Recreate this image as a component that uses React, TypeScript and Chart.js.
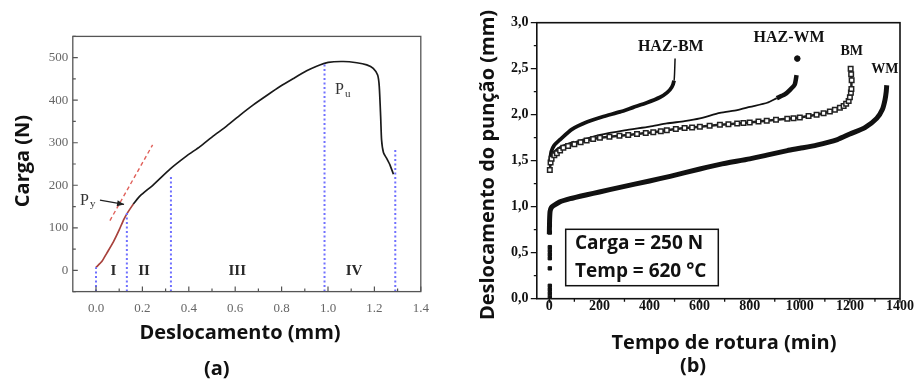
import React, { useEffect, useRef } from "react";
import { Chart, registerables } from "chart.js";
Chart.register(...registerables);

// ================= Panel (a) data =================
const aXTicks = [0, 0.2, 0.4, 0.6, 0.8, 1.0, 1.2, 1.4];
const aXMinor = [0.1, 0.3, 0.5, 0.7, 0.9, 1.1, 1.3];
const aYTicks = [0, 100, 200, 300, 400, 500];
const aYMinor = [-50, 50, 150, 250, 350, 450, 550];

const elasticX = [0, 0.024, 0.046, 0.075, 0.1, 0.12, 0.139, 0.161];
const elasticY = [7, 20, 40, 67, 95, 120, 138, 156];

const loadX = [0.161, 0.19, 0.247, 0.319, 0.391, 0.448, 0.506, 0.563, 0.621, 0.678, 0.736, 0.793, 0.851, 0.908, 0.951, 1.001, 1.066, 1.124, 1.167, 1.195, 1.214, 1.221, 1.227, 1.231, 1.239, 1.253, 1.267, 1.282];
const loadY = [156, 175, 201, 238, 269, 291, 316, 339, 365, 389, 411, 432, 451, 469, 480, 489, 491, 488, 483, 475, 459, 432, 361, 306, 277, 263, 248, 226];

const tangentX = [0.06, 0.244];
const tangentY = [117, 295];

const stageLineX = [0, 0.133, 0.323, 0.985, 1.29];
const stageLineTop = [7, 140, 224, 490, 287];

const stageNames = ["I", "II", "III", "IV"];
const stageNameX = [0.075, 0.207, 0.609, 1.112];

// ================= Panel (b) data =================
const bXTicks = [0, 200, 400, 600, 800, 1000, 1200, 1400];
const bXMinor = [100, 300, 500, 700, 900, 1100, 1300];
const bYTicks = [0, 0.5, 1.0, 1.5, 2.0, 2.5, 3.0];
const bYMinor = [0.25, 0.75, 1.25, 1.75, 2.25, 2.75];

const hazBmX = [3, 8, 20, 43, 90, 150, 216, 282, 335, 389, 442, 470, 489, 498, 500, 502];
const hazBmY = [1.5, 1.6, 1.67, 1.73, 1.84, 1.92, 1.98, 2.03, 2.08, 2.13, 2.19, 2.24, 2.3, 2.37, 2.45, 2.61];

const hazWmX = [3, 8, 16, 50, 100, 202, 300, 400, 469, 540, 601, 681, 750, 801, 870, 908, 940, 961, 980, 987];
const hazWmY = [1.45, 1.53, 1.58, 1.65, 1.7, 1.78, 1.83, 1.87, 1.905, 1.93, 1.96, 2.02, 2.05, 2.085, 2.13, 2.18, 2.22, 2.27, 2.33, 2.43];
const hazWmTipX = [990];
const hazWmTipY = [2.61];

const bmX = [2, 5, 9, 20, 30, 43, 56, 75, 100, 125, 149, 175, 202, 240, 280, 315, 350, 385, 415, 445, 469, 505, 540, 570, 601, 640, 681, 715, 750, 775, 800, 835, 868, 905, 950, 975, 1000, 1035, 1067, 1095, 1120, 1140, 1160, 1175, 1185, 1195, 1200, 1204, 1206, 1207, 1205, 1203];
const bmY = [1.4, 1.48, 1.52, 1.56, 1.58, 1.61, 1.64, 1.66, 1.68, 1.7, 1.72, 1.735, 1.75, 1.76, 1.77, 1.78, 1.79, 1.8, 1.81, 1.82, 1.83, 1.845, 1.855, 1.862, 1.87, 1.88, 1.89, 1.897, 1.905, 1.91, 1.915, 1.925, 1.935, 1.945, 1.955, 1.962, 1.97, 1.985, 2.0, 2.015, 2.035, 2.055, 2.075, 2.095, 2.12, 2.15, 2.19, 2.24, 2.28, 2.375, 2.44, 2.5];

const wmX = [0, 1, 3, 8, 16, 40, 83, 150, 200, 282, 400, 482, 601, 681, 800, 868, 950, 1000, 1067, 1150, 1200, 1260, 1307, 1330, 1340, 1345, 1347];
const wmY = [0.7, 0.85, 0.95, 0.99, 1.01, 1.05, 1.087, 1.13, 1.16, 1.21, 1.28, 1.33, 1.41, 1.46, 1.52, 1.56, 1.61, 1.635, 1.67, 1.73, 1.79, 1.86, 1.96, 2.06, 2.16, 2.25, 2.32];

const startColX = [2, 2, 2, 2, 2, 2, 2, 2, 2, 2, 2];
const startColY = [0.02, 0.06, 0.1, 0.14, 0.33, 0.44, 0.48, 0.52, 0.56, 0.72, 0.8];

const seriesNames = ["HAZ-BM", "HAZ-WM", "BM", "WM"];
const seriesLabelX = [485, 957, 1207, 1340];
const seriesLabelY = [2.74, 2.83, 2.685, 2.497];

const zip = (xs: number[], ys: number[]) => xs.map((x, i) => ({ x, y: ys[i] }));

const SANS = "'Open Sans', 'DejaVu Sans', sans-serif";
const SERIF = "'Liberation Serif', 'DejaVu Serif', serif";

function text(ctx: CanvasRenderingContext2D, s: string, x: number, y: number, font: string, color: string, align: CanvasTextAlign = "center", rot = 0) {
  ctx.save();
  ctx.font = font;
  ctx.fillStyle = color;
  ctx.textAlign = align;
  ctx.textBaseline = "middle";
  ctx.translate(x, y);
  if (rot) ctx.rotate(rot);
  ctx.fillText(s, 0, 0);
  ctx.restore();
}

function drawTicks(ctx: CanvasRenderingContext2D, chart: any, xs: number[], len: number, inward: boolean, axis: "x" | "y") {
  const ca = chart.chartArea;
  const sc = chart.scales[axis];
  ctx.beginPath();
  xs.forEach((v) => {
    const p = sc.getPixelForValue(v);
    if (axis === "x") {
      ctx.moveTo(p, ca.bottom);
      ctx.lineTo(p, inward ? ca.bottom - len : ca.bottom + len);
    } else {
      ctx.moveTo(ca.left, p);
      ctx.lineTo(inward ? ca.left + len : ca.left - len, p);
    }
  });
  ctx.stroke();
}

const panelAPlugin = {
  id: "panelA",
  afterDraw(chart: any) {
    const { ctx, chartArea: ca, scales } = chart;
    const x = scales.x, y = scales.y;
    ctx.save();
    ctx.strokeStyle = "#555";
    ctx.lineWidth = 1.3;
    ctx.strokeRect(ca.left, ca.top, ca.right - ca.left, ca.bottom - ca.top);
    ctx.lineWidth = 1.2;
    drawTicks(ctx, chart, aXTicks, 5, true, "x");
    drawTicks(ctx, chart, aXMinor, 3, true, "x");
    drawTicks(ctx, chart, aYTicks, 5, true, "y");
    drawTicks(ctx, chart, aYMinor, 3, true, "y");

    stageNames.forEach((s, i) => {
      text(ctx, s, x.getPixelForValue(stageNameX[i]), y.getPixelForValue(-2), `bold 15px ${SERIF}`, "#2a2a2a");
    });

    const pyX = x.getPixelForValue(-0.069), pyY = y.getPixelForValue(164);
    text(ctx, "P", pyX, pyY, `16px ${SERIF}`, "#333", "left");
    text(ctx, "y", pyX + 10, pyY + 4, `11px ${SERIF}`, "#333", "left");
    const ax0 = x.getPixelForValue(0.017), ay0 = y.getPixelForValue(165);
    const ax1 = x.getPixelForValue(0.121), ay1 = y.getPixelForValue(155);
    ctx.strokeStyle = "#222";
    ctx.lineWidth = 1.2;
    ctx.beginPath();
    ctx.moveTo(ax0, ay0);
    ctx.lineTo(ax1, ay1);
    ctx.stroke();
    const ang = Math.atan2(ay1 - ay0, ax1 - ax0);
    ctx.fillStyle = "#222";
    ctx.beginPath();
    ctx.moveTo(ax1, ay1);
    ctx.lineTo(ax1 - 7 * Math.cos(ang) + 3 * Math.sin(ang), ay1 - 7 * Math.sin(ang) - 3 * Math.cos(ang));
    ctx.lineTo(ax1 - 7 * Math.cos(ang) - 3 * Math.sin(ang), ay1 - 7 * Math.sin(ang) + 3 * Math.cos(ang));
    ctx.closePath();
    ctx.fill();

    const puX = x.getPixelForValue(1.03), puY = y.getPixelForValue(424);
    text(ctx, "P", puX, puY, `16px ${SERIF}`, "#333", "left");
    text(ctx, "u", puX + 10, puY + 4, `11px ${SERIF}`, "#333", "left");

    text(ctx, "Carga (N)", 23.3, 161, `bold 20px ${SANS}`, "#111", "center", -Math.PI / 2);
    text(ctx, "Deslocamento (mm)", 240, 333, `bold 20px ${SANS}`, "#111");
    text(ctx, "(a)", 216.7, 369, `bold 20px ${SANS}`, "#111");
    ctx.restore();
  },
};

const panelBPlugin = {
  id: "panelB",
  afterDraw(chart: any) {
    const { ctx, chartArea: ca, scales } = chart;
    const x = scales.x, y = scales.y;
    ctx.save();
    ctx.strokeStyle = "#111";
    ctx.lineWidth = 1.6;
    ctx.strokeRect(ca.left, ca.top, ca.right - ca.left, ca.bottom - ca.top);
    ctx.lineWidth = 1.3;
    drawTicks(ctx, chart, bXTicks, 4, false, "x");
    drawTicks(ctx, chart, bXMinor, 3, false, "x");
    drawTicks(ctx, chart, bYTicks, 6, false, "y");
    drawTicks(ctx, chart, bYMinor, 3, false, "y");

    seriesNames.forEach((s, i) => {
      const size = i < 2 ? 16 : 14;
      text(ctx, s, x.getPixelForValue(seriesLabelX[i]), y.getPixelForValue(seriesLabelY[i]), `bold ${size}px ${SERIF}`, "#111");
    });

    ctx.fillStyle = "#fff";
    ctx.fillRect(107.7, 229.3, 152.6, 56.4);
    ctx.strokeStyle = "#111";
    ctx.lineWidth = 1.5;
    ctx.strokeRect(107.7, 229.3, 152.6, 56.4);
    text(ctx, "Carga = 250 N", 117, 243.5, `bold 19px ${SANS}`, "#111", "left");
    text(ctx, "Temp = 620 °C", 117, 271.5, `bold 19px ${SANS}`, "#111", "left");

    text(ctx, "Deslocamento do punção (mm)", 30, 165, `bold 20px ${SANS}`, "#111", "center", -Math.PI / 2);
    text(ctx, "Tempo de rotura (min)", 266, 343, `bold 20px ${SANS}`, "#111");
    text(ctx, "(b)", 235, 366, `bold 20px ${SANS}`, "#111");
    ctx.restore();
  },
};

function PanelA() {
  const ref = useRef<HTMLCanvasElement>(null);
  useEffect(() => {
    const chart = new Chart(ref.current as HTMLCanvasElement, {
      type: "scatter",
      data: {
        datasets: [
          ...stageLineX.map((sx, i) => ({
            data: [{ x: sx, y: -50 }, { x: sx, y: stageLineTop[i] }],
            showLine: true,
            borderColor: "#7070ff",
            borderWidth: 2,
            borderDash: [2, 2.5],
            pointRadius: 0,
          })),
          {
            data: zip(tangentX, tangentY),
            showLine: true,
            borderColor: "#e0605a",
            borderWidth: 1.4,
            borderDash: [4, 3],
            pointRadius: 0,
          },
          {
            data: zip(loadX, loadY),
            showLine: true,
            borderColor: "#1a1a1a",
            borderWidth: 1.7,
            pointRadius: 0,
            tension: 0.2,
          },
          {
            data: zip(elasticX, elasticY),
            showLine: true,
            borderColor: "#a8423c",
            borderWidth: 1.7,
            pointRadius: 0,
            tension: 0.2,
          },
        ],
      },
      options: {
        animation: false,
        responsive: false,
        layout: { padding: { left: 0, top: 36.4, right: 37.2, bottom: 0 } },
        plugins: { legend: { display: false }, tooltip: { enabled: false } },
        scales: {
          x: {
            type: "linear",
            min: -0.1,
            max: 1.4,
            grid: { display: false, drawTicks: false },
            border: { display: false },
            afterBuildTicks: (s: any) => { s.ticks = aXTicks.map((v) => ({ value: v })); },
            afterFit: (s: any) => { s.height = 91.4; },
            ticks: {
              autoSkip: false,
              maxRotation: 0,
              padding: 9,
              color: "#666",
              font: { family: SERIF, size: 13 },
              callback: (v: any) => Number(v).toFixed(1),
            },
          },
          y: {
            type: "linear",
            min: -50,
            max: 550,
            grid: { display: false, drawTicks: false },
            border: { display: false },
            afterBuildTicks: (s: any) => { s.ticks = aYTicks.map((v) => ({ value: v })); },
            afterFit: (s: any) => { s.width = 72.8; },
            ticks: {
              autoSkip: false,
              padding: 4.5,
              color: "#666",
              font: { family: SERIF, size: 13 },
              callback: (v: any) => String(v),
            },
          },
        },
      },
      plugins: [panelAPlugin],
    } as any);
    return () => chart.destroy();
  }, []);
  return <canvas ref={ref} width={458} height={383} style={{ position: "absolute", left: 0, top: 0 }} />;
}

function PanelB() {
  const ref = useRef<HTMLCanvasElement>(null);
  useEffect(() => {
    const chart = new Chart(ref.current as HTMLCanvasElement, {
      type: "scatter",
      data: {
        datasets: [
          {
            data: zip(startColX, startColY),
            showLine: false,
            pointStyle: "rect",
            pointRadius: 2.4,
            backgroundColor: "#111",
            borderColor: "#111",
          },
          {
            data: zip(wmX, wmY),
            showLine: true,
            borderColor: "#111",
            borderWidth: 5,
            pointRadius: 0,
            tension: 0.2,
          },
          {
            data: zip(bmX, bmY),
            showLine: true,
            borderColor: "#222",
            borderWidth: 2.5,
            pointStyle: "rect",
            pointRadius: 3.2,
            pointBorderWidth: 1.5,
            pointBackgroundColor: "#fff",
            pointBorderColor: "#222",
          },
          {
            data: zip(hazWmX, hazWmY),
            showLine: true,
            borderColor: "#111",
            borderWidth: 1.8,
            pointRadius: 0,
            tension: 0.2,
            segment: { borderWidth: (c: any) => (c.p0.parsed.x >= 900 ? 4.5 : c.p0.parsed.x < 60 ? 3.5 : 1.8) },
          },
          {
            data: zip(hazWmTipX, hazWmTipY),
            showLine: false,
            pointRadius: 2.8,
            backgroundColor: "#111",
            borderColor: "#111",
          },
          {
            data: zip(hazBmX, hazBmY),
            showLine: true,
            borderColor: "#111",
            borderWidth: 3.8,
            pointRadius: 0,
            tension: 0.2,
            segment: { borderWidth: (c: any) => (c.p0.parsed.y >= 2.37 ? 1.5 : 3.8) },
          },
        ],
      },
      options: {
        animation: false,
        responsive: false,
        layout: { padding: { left: 0, top: 22.7, right: 17, bottom: 0 } },
        plugins: { legend: { display: false }, tooltip: { enabled: false } },
        scales: {
          x: {
            type: "linear",
            min: -50,
            max: 1400,
            grid: { display: false, drawTicks: false },
            border: { display: false },
            afterBuildTicks: (s: any) => { s.ticks = bXTicks.map((v) => ({ value: v })); },
            afterFit: (s: any) => { s.height = 84.3; },
            ticks: {
              autoSkip: false,
              maxRotation: 0,
              padding: 1,
              color: "#111",
              font: { family: SERIF, size: 14, weight: "bold", lineHeight: 1 },
              callback: (v: any) => String(v),
            },
          },
          y: {
            type: "linear",
            min: 0,
            max: 3,
            grid: { display: false, drawTicks: false },
            border: { display: false },
            afterBuildTicks: (s: any) => { s.ticks = bYTicks.map((v) => ({ value: v })); },
            afterFit: (s: any) => { s.width = 78.8; },
            ticks: {
              autoSkip: false,
              padding: 8.3,
              color: "#111",
              font: { family: SERIF, size: 14, weight: "bold" },
              callback: (v: any) => Number(v).toFixed(1).replace(".", ","),
            },
          },
        },
      },
      plugins: [panelBPlugin],
    } as any);
    return () => chart.destroy();
  }, []);
  return <canvas ref={ref} width={459} height={383} style={{ position: "absolute", left: 458, top: 0 }} />;
}

export default function App() {
  return (
    <div style={{ position: "absolute", left: 0, top: 0, width: 917, height: 383, background: "#fff", overflow: "hidden" }}>
      <PanelA />
      <PanelB />
    </div>
  );
}
